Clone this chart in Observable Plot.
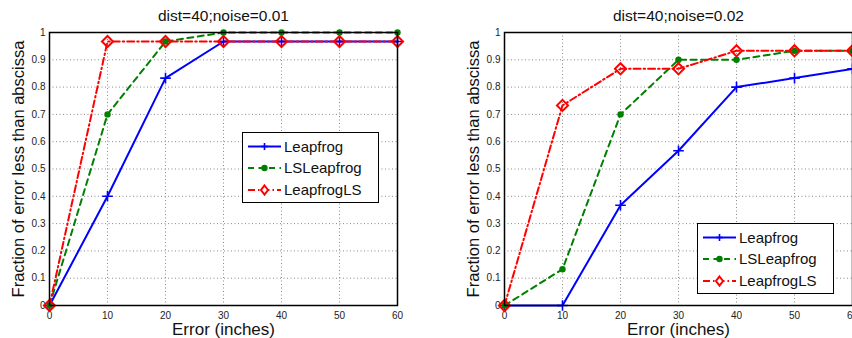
<!DOCTYPE html>
<html>
<head>
<meta charset="utf-8">
<script src="https://cdn.jsdelivr.net/npm/d3@7"></script>
<script src="https://cdn.jsdelivr.net/npm/@observablehq/plot@0.6"></script>
<style>
  html, body { margin: 0; padding: 0; background: #fff; overflow: hidden; }
  #wrap { position: relative; width: 852px; height: 338px; overflow: hidden; font-family: "Liberation Sans", Arial, sans-serif; }
  .panel { position: absolute; top: 0; }
  .legend { position: absolute; background: #fff; border: 1.5px solid #000; box-sizing: border-box; }
</style>
</head>
<body>
<div id="wrap"></div>
<script>
// ---- data ----
const errors = [0, 10, 20, 30, 40, 50, 60];
const seriesNames = ["Leapfrog", "LSLeapfrog", "LeapfrogLS"];

const titleLeft = "dist=40;noise=0.01";
const leapfrogLeft   = [0, 0.4, 0.833, 0.967, 0.967, 0.967, 0.967];
const lsLeapfrogLeft = [0, 0.7, 0.967, 1.0, 1.0, 1.0, 1.0];
const leapfrogLSLeft = [0, 0.967, 0.967, 0.967, 0.967, 0.967, 0.967];

const titleRight = "dist=40;noise=0.02";
const leapfrogRight   = [0, 0, 0.367, 0.567, 0.8, 0.833, 0.867];
const lsLeapfrogRight = [0, 0.133, 0.7, 0.9, 0.9, 0.933, 0.933];
const leapfrogLSRight = [0, 0.733, 0.867, 0.867, 0.933, 0.933, 0.933];

const xTicks = [0, 10, 20, 30, 40, 50, 60];
const yTicks = [0, 0.1, 0.2, 0.3, 0.4, 0.5, 0.6, 0.7, 0.8, 0.9, 1];
const xLabel = "Error (inches)";
const yLabel = "Fraction of error less than abscissa";

// ---- styles ----
const styles = [
  {stroke: "#0000ff", dash: null, symbol: "plus", fill: "none", r: 3.5, sw: 1.6},
  {stroke: "#008000", dash: "6,4.5", symbol: "circle", fill: "#008000", r: 3.2, sw: 0},
  {stroke: "#ff0000", dash: "7,3,1.5,3", symbol: "diamond2", fill: "none", r: 5, sw: 2}
];

function rows(vals) { return errors.map((e, i) => ({x: e, y: vals[i]})); }

function makePanel(title, seriesVals) {
  const marks = [
    Plot.gridX(xTicks.slice(1, -1), {stroke: "#8a8a8a", strokeOpacity: 1, strokeDasharray: "1,2.5"}),
    Plot.gridY(yTicks.slice(1, -1), {stroke: "#8a8a8a", strokeOpacity: 1, strokeDasharray: "1,2.5"}),
    Plot.axisX(xTicks, {tickSize: 0, tickPadding: 6, fontSize: 10, fill: "#222", label: null}),
    Plot.axisY(yTicks, {tickSize: 0, tickPadding: 4, fontSize: 10, fill: "#222", label: null,
      tickFormat: d => String(+d.toFixed(2))}),
    Plot.text([title], {frameAnchor: "top", dy: -16, lineAnchor: "middle", textAnchor: "middle", fontSize: 15.5, fill: "#111"}),
    Plot.text([xLabel], {frameAnchor: "bottom", dy: 24, lineAnchor: "middle", textAnchor: "middle", fontSize: 17, fill: "#111"}),
    Plot.text([yLabel], {frameAnchor: "left", dx: -31, rotate: -90, lineAnchor: "middle", textAnchor: "middle", fontSize: 16.5, fill: "#111"})
  ];
  seriesVals.forEach((vals, k) => {
    const s = styles[k];
    marks.push(Plot.line(rows(vals), {x: "x", y: "y", stroke: s.stroke, strokeWidth: 2,
      strokeDasharray: s.dash, clip: false}));
  });
  seriesVals.forEach((vals, k) => {
    const s = styles[k];
    marks.push(Plot.dot(rows(vals), {x: "x", y: "y", symbol: s.symbol, r: s.r,
      stroke: s.sw ? s.stroke : "none", strokeWidth: s.sw, fill: s.fill}));
  });
  marks.push(Plot.frame({stroke: "#000", strokeWidth: 1.5}));
  return Plot.plot({
    width: 426, height: 338,
    marginLeft: 49, marginRight: 29, marginTop: 32, marginBottom: 33,
    style: {fontFamily: "'Liberation Sans', Arial, sans-serif", background: "transparent", overflow: "visible"},
    x: {domain: [0, 60], axis: null},
    y: {domain: [0, 1], axis: null},
    marks
  });
}

function makeLegend(left, top) {
  const w = 137, h = 71;
  const div = document.createElement("div");
  div.className = "legend";
  div.style.left = left + "px";
  div.style.top = top + "px";
  div.style.width = w + "px";
  div.style.height = h + "px";
  const svg = d3.create("svg").attr("width", w - 3).attr("height", h - 3)
    .style("display", "block");
  const rowY = [13.5, 35, 57];
  seriesNames.forEach((name, k) => {
    const s = styles[k];
    const y = rowY[k];
    svg.append("line").attr("x1", 5).attr("x2", 38).attr("y1", y).attr("y2", y)
      .attr("stroke", s.stroke).attr("stroke-width", 2)
      .attr("stroke-dasharray", s.dash || null);
    const cx = 21.5;
    if (s.symbol === "plus") {
      svg.append("path").attr("d", `M${cx - 3.5},${y}h7M${cx},${y - 3.5}v7`)
        .attr("stroke", s.stroke).attr("stroke-width", 1.6);
    } else if (s.symbol === "circle") {
      svg.append("circle").attr("cx", cx).attr("cy", y).attr("r", 3.2).attr("fill", s.fill);
    } else {
      svg.append("path").attr("d", `M${cx},${y - 4.5}L${cx + 3.5},${y}L${cx},${y + 4.5}L${cx - 3.5},${y}Z`)
        .attr("stroke", s.stroke).attr("stroke-width", 2).attr("fill", "#fff");
    }
    svg.append("text").attr("x", 41).attr("y", y).attr("dy", "0.35em")
      .attr("font-size", 15).attr("fill", "#111")
      .attr("font-family", "'Liberation Sans', Arial, sans-serif").text(name);
  });
  div.appendChild(svg.node());
  return div;
}

const wrap = document.getElementById("wrap");
const left = makePanel(titleLeft, [leapfrogLeft, lsLeapfrogLeft, leapfrogLSLeft]);
left.classList.add("panel");
left.style.left = "0px";
wrap.appendChild(left);

const right = makePanel(titleRight, [leapfrogRight, lsLeapfrogRight, leapfrogLSRight]);
right.classList.add("panel");
right.style.left = "455px";
wrap.appendChild(right);

wrap.appendChild(makeLegend(242, 132));
wrap.appendChild(makeLegend(697, 223));
</script>
</body>
</html>
